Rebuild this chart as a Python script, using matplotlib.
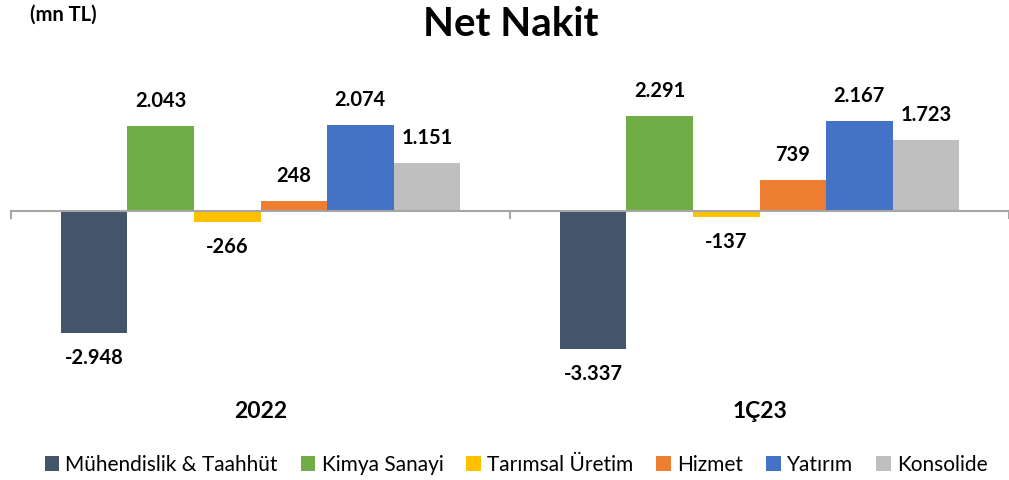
import matplotlib
matplotlib.use("Agg")
import matplotlib.pyplot as plt
import numpy as np

categories = ["2022", "1Ç23"]
series = ["Mühendislik & Taahhüt", "Kimya Sanayi", "Tarımsal Üretim", "Hizmet", "Yatırım", "Konsolide"]
values = {
    "Mühendislik & Taahhüt": [-2948, -3337],
    "Kimya Sanayi": [2043, 2291],
    "Tarımsal Üretim": [-266, -137],
    "Hizmet": [248, 739],
    "Yatırım": [2074, 2167],
    "Konsolide": [1151, 1723],
}
colors = ["#44546A", "#70AD47", "#FFC000", "#ED7D31", "#4472C4", "#BFBFBF"]

def fmt(v):
    s = f"{abs(v):,}".replace(",", ".")
    return ("-" if v < 0 else "") + s

plt.rcParams['font.family'] = ['Lato', 'DejaVu Sans']

W, H = 1009, 480
fig = plt.figure(figsize=(W/100, H/100), dpi=100)
ax_left, ax_right = 11, 1009
ax_top, ax_bot = 60, 400
ax = fig.add_axes([ax_left/W, 1-ax_bot/H, (ax_right-ax_left)/W, (ax_bot-ax_top)/H])

upp = 24.15  # units per pixel
zero_px = 211
ax.set_ylim(-(ax_bot-zero_px)*upp, (zero_px-ax_top)*upp)
ax.set_xlim(0, len(categories))

n = len(series)
bw = 0.8 / n
x = np.arange(len(categories)) + 0.5
for i, s in enumerate(series):
    pos = x - 0.4 + bw*(i+0.5)
    vals = values[s]
    ax.bar(pos, vals, width=bw, color=colors[i], label=s, zorder=2)
    for p, v in zip(pos, vals):
        off = 25*upp
        ax.text(p, v + off if v >= 0 else v - off, fmt(v), ha='center', va='center',
                fontsize=14.5, fontweight='bold', color='black')

ax.axhline(0, color='#A6A6A6', lw=1.5, zorder=3)
for xt in [0, 1, 2]:
    ax.plot([xt, xt], [0, -7*upp], color='#A6A6A6', lw=1.5, clip_on=False, zorder=3)

for sp in ax.spines.values():
    sp.set_visible(False)
ax.set_xticks([])
ax.set_yticks([])

for xc, c in zip(x, categories):
    fig.text((ax_left + xc*(ax_right-ax_left)/2)/W, 1-411/H, c, ha='center', va='center',
             fontsize=16.5, fontweight='bold')

fig.text(511/W, 1-25/H, "Net Nakit", ha='center', va='center', fontsize=29, fontweight='bold')
fig.text(30/W, 1-15/H, "(mn TL)", ha='left', va='center', fontsize=14.5, fontweight='bold')

leg = fig.legend(loc='center', bbox_to_anchor=(516/W, 1-465/H), ncol=6, frameon=False,
                 fontsize=15, handlelength=0.7, handleheight=0.7, handletextpad=0.3,
                 columnspacing=1.1, borderaxespad=0)

fig.savefig("out.png", dpi=100)
